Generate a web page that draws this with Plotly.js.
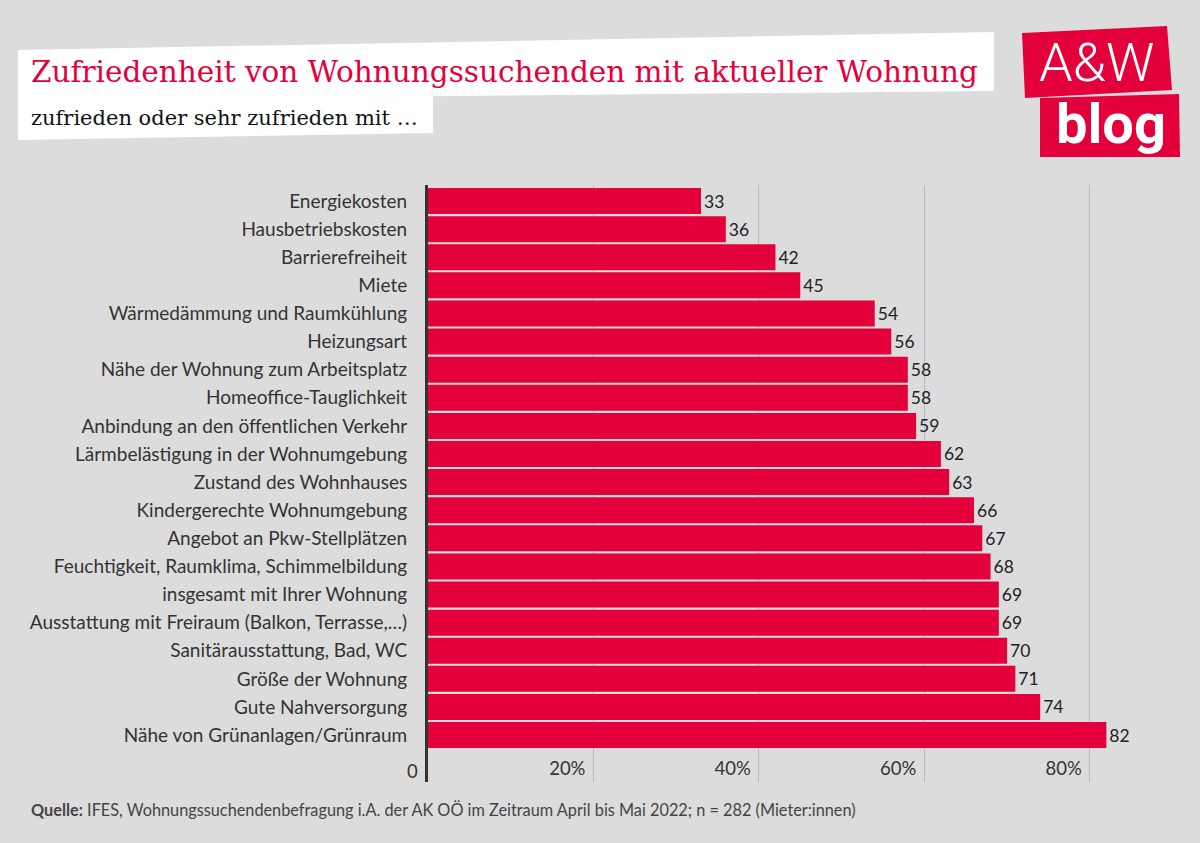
<!DOCTYPE html>
<html>
<head>
<meta charset="utf-8">
<script src="https://cdn.plot.ly/plotly-3.0.1.min.js"></script>
<style>html,body{margin:0;padding:0;background:#dcdcdc;}</style>
</head>
<body>
<div id="chart" style="width:1200px;height:843px;"></div>
<script>
const categories = [
  "Energiekosten",
  "Hausbetriebskosten",
  "Barrierefreiheit",
  "Miete",
  "Wärmedämmung und Raumkühlung",
  "Heizungsart",
  "Nähe der Wohnung zum Arbeitsplatz",
  "Homeoffice-Tauglichkeit",
  "Anbindung an den öffentlichen Verkehr",
  "Lärmbelästigung in der Wohnumgebung",
  "Zustand des Wohnhauses",
  "Kindergerechte Wohnumgebung",
  "Angebot an Pkw-Stellplätzen",
  "Feuchtigkeit, Raumklima, Schimmelbildung",
  "insgesamt mit Ihrer Wohnung",
  "Ausstattung mit Freiraum (Balkon, Terrasse,…)",
  "Sanitärausstattung, Bad, WC",
  "Größe der Wohnung",
  "Gute Nahversorgung",
  "Nähe von Grünanlagen/Grünraum"
];
const values = [33, 36, 42, 45, 54, 56, 58, 58, 59, 62, 63, 66, 67, 68, 69, 69, 70, 71, 74, 82];
const tickValues = [0, 20, 40, 60, 80];
const tickLabels = ["0", "20%", "40%", "60%", "80%"];

const titleText = "Zufriedenheit von Wohnungssuchenden mit aktueller Wohnung";
const subtitleText = "zufrieden oder sehr zufrieden mit …";
const sourceText = "<b>Quelle:</b> IFES, Wohnungssuchendenbefragung i.A. der AK OÖ im Zeitraum April bis Mai 2022; n = 282 (Mieter:innen)";

const W = 1200, H = 843;
const M = {l: 428, r: 44, t: 185, b: 61};
const RED = "#e4003a";
const BG = "#dcdcdc";
const LABEL_FONT = "Lato, 'Noto Sans', sans-serif";
const SERIF = "'DejaVu Serif', 'Liberation Serif', serif";

// pixel -> paper conversion for decorative elements outside the plot
const pw = W - M.l - M.r, ph = H - M.t - M.b;
const px = x => (x - M.l) / pw;
const py = y => (H - M.b - y) / ph;
function poly(pts) {
  return "M " + pts.map(p => px(p[0]).toFixed(5) + "," + py(p[1]).toFixed(5)).join(" L ") + " Z";
}

const trace = {
  type: "bar",
  orientation: "h",
  y: categories,
  x: values,
  text: values.map(String),
  textposition: "outside",
  textfont: {family: LABEL_FONT, size: 17.5, color: "#222"},
  cliponaxis: false,
  marker: {color: RED, line: {width: 0}},
  hoverinfo: "none"
};

const n = categories.length;
const layout = {
  width: W, height: H,
  paper_bgcolor: BG, plot_bgcolor: BG,
  margin: M,
  showlegend: false,
  bargap: 0.075,
  font: {family: LABEL_FONT, color: "#333"},
  xaxis: {
    range: [0, 88],
    tickvals: tickValues.slice(1),
    ticktext: tickLabels.slice(1),
    ticklabelposition: "inside left",
    ticklabelshift: -8,
    ticklabelstandoff: -3,
    showgrid: true,
    gridcolor: "#b9b9b9",
    gridwidth: 1,
    zeroline: false,
    showline: false,
    ticks: "",
    tickfont: {family: LABEL_FONT, size: 18.5, color: "#333"},
    fixedrange: true
  },
  yaxis: {
    type: "category",
    categoryorder: "array",
    categoryarray: categories,
    range: [n - 1 + 1.67, -0.57],
    autorange: false,
    showline: true,
    linecolor: "#333",
    linewidth: 3,
    showgrid: false,
    ticks: "",
    ticklabelstandoff: 14,
    tickfont: {family: LABEL_FONT, size: 19, color: "#333"},
    fixedrange: true
  },
  shapes: [
    {type: "path", xref: "paper", yref: "paper", layer: "below",
     path: poly([[18, 50], [994, 32], [994, 91], [18, 100]]),
     fillcolor: "#ffffff", line: {width: 0}},
    {type: "path", xref: "paper", yref: "paper", layer: "below",
     path: poly([[18, 98], [433, 96], [433, 133], [18, 140]]),
     fillcolor: "#ffffff", line: {width: 0}},
    {type: "path", xref: "paper", yref: "paper", layer: "below",
     path: poly([[1022, 33], [1167, 26], [1172, 90], [1025, 98]]),
     fillcolor: RED, line: {width: 0}},
    {type: "path", xref: "paper", yref: "paper", layer: "below",
     path: poly([[1040, 98], [1179, 94], [1180, 157], [1040, 157]]),
     fillcolor: RED, line: {width: 0}}
  ],
  annotations: [
    {xref: "x", yref: "paper", x: tickValues[0], y: py(771), xanchor: "right", yanchor: "middle",
     xshift: -8, text: tickLabels[0], showarrow: false,
     font: {family: LABEL_FONT, size: 18.5, color: "#333"}},
    {xref: "paper", yref: "paper", x: px(29), y: py(72), xanchor: "left", yanchor: "middle",
     text: titleText, showarrow: false,
     font: {family: SERIF, size: 29.5, color: RED}},
    {xref: "paper", yref: "paper", x: px(29), y: py(118), xanchor: "left", yanchor: "middle",
     text: subtitleText, showarrow: false,
     font: {family: SERIF, size: 21, color: "#111"}},
    {xref: "paper", yref: "paper", x: px(1096), y: py(63), xanchor: "center", yanchor: "middle",
     text: "A&amp;W", showarrow: false,
     font: {family: "Roboto, Lato, sans-serif", size: 54, color: "#ffffff", weight: 300}},
    {xref: "paper", yref: "paper", x: px(1111), y: py(124), xanchor: "center", yanchor: "middle",
     text: "<b>blog</b>", showarrow: false,
     font: {family: "Roboto, Lato, sans-serif", size: 56, color: "#ffffff"}},
    {xref: "paper", yref: "paper", x: px(29), y: py(809), xanchor: "left", yanchor: "middle",
     text: sourceText, showarrow: false,
     font: {family: LABEL_FONT, size: 16.3, color: "#444"}}
  ]
};

Plotly.newPlot("chart", [trace], layout, {displayModeBar: false, staticPlot: true});
</script>
</body>
</html>
